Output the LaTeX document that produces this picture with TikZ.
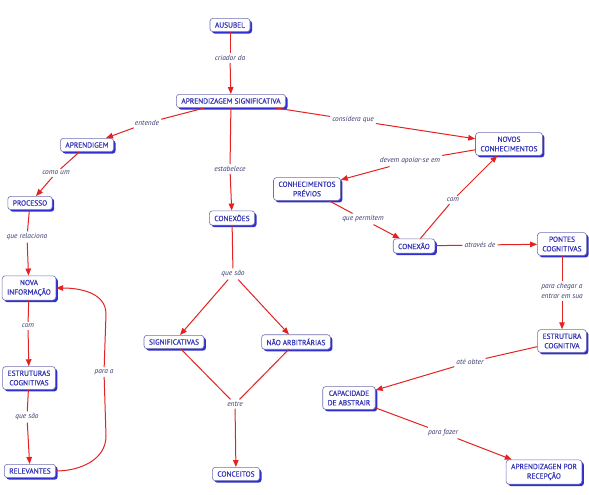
\documentclass[tikz,border=0pt]{standalone}
\usepackage{fontspec}
\setmainfont{PT Sans}
\newfontfamily\cmapbold[FakeBold=0.6]{PT Sans}
\usetikzlibrary{arrows.meta,shadows}
\definecolor{ntext}{HTML}{3535B5}
\definecolor{nborder}{HTML}{7070B0}
\definecolor{nshadow}{HTML}{3030D0}
\definecolor{lred}{HTML}{E52222}
\definecolor{ltext}{HTML}{3A3A70}
\begin{document}
\begin{tikzpicture}[x=1pt,y=-1pt,
  concept/.style={draw=nborder, line width=0.6pt, fill=white, rounded corners=3pt,
    text=ntext, font=\cmapbold\fontsize{7.4}{9.5}\selectfont, align=center,
    inner xsep=5pt, inner ysep=4pt,
    drop shadow={shadow xshift=2pt, shadow yshift=-2pt, fill=nshadow, opacity=1}},
  lab/.style={fill=white, text=ltext, font=\fontsize{7.4}{9.5}\selectfont\itshape,
    inner sep=2pt, align=center},
  link/.style={draw=lred, line width=1pt},
  arr/.style={link, -{Triangle[length=7pt,width=5.5pt]}},
]
\useasboundingbox (0,0) rectangle (589,495);
\fill[white] (0,0) rectangle (589,495);

% concepts
\node[concept] (aus) at (230,25) {AUSUBEL};
\node[concept] (as) at (231,101) {APRENDIZAGEM SIGNIFICATIVA};
\node[concept] (apr) at (87,145) {APRENDIGEM};
\node[concept] (proc) at (30,203) {PROCESSO};
\node[concept] (nova) at (29,288) {NOVA\\INFORMAÇÃO};
\node[concept] (estr) at (29,378) {ESTRUTURAS\\COGNITIVAS};
\node[concept] (rel) at (30,471) {RELEVANTES};
\node[concept] (conx) at (232,218) {CONEXÕES};
\node[concept] (sig) at (174,342) {SIGNIFICATIVAS};
\node[concept] (nao) at (296,342) {NÃO ARBITRÁRIAS};
\node[concept] (conc) at (236,474) {CONCEITOS};
\node[concept] (novos) at (509,144) {NOVOS\\CONHECIMENTOS};
\node[concept] (prev) at (307,189) {CONHECIMENTOS\\PRÉVIOS};
\node[concept] (conexao) at (414,246) {CONEXÃO};
\node[concept] (pontes) at (562,244) {PONTES\\COGNITIVAS};
\node[concept] (estc) at (562,341) {ESTRUTURA\\COGNITIVA};
\node[concept] (cap) at (349,398) {CAPACIDADE\\DE ABSTRAIR};
\node[concept] (rec) at (544,472) {APRENDIZAGEN POR\\RECEPÇÃO};

% linking phrases
\node[lab] (l1) at (230,58) {criador da};
\node[lab] (l2) at (147,123) {entende};
\node[lab] (l3) at (353,120) {considera que};
\node[lab] (l4) at (56,173) {como um};
\node[lab] (l5) at (27,237) {que relaciona};
\node[lab] (l6) at (28,326) {com};
\node[lab] (l7) at (27,417) {que são};
\node[lab] (l8) at (104,372) {para a};
\node[lab] (l9) at (230,169) {estabelece};
\node[lab] (l10) at (233,274) {que são};
\node[lab] (l11) at (235,404) {entre};
\node[lab] (l12) at (410,161) {devem apoiar-se em};
\node[lab] (l13) at (363,219) {que permitem};
\node[lab] (l14) at (453,200) {com};
\node[lab] (l15) at (480,245) {através de};
\node[lab] (l16) at (562,291) {para chegar a\\entrar em sua};
\node[lab] (l17) at (470,362) {até obter};
\node[lab] (l18) at (443,433) {para fazer};

\coordinate (pa1) at (106,436);
\coordinate (pa2) at (106,314);

% connectors
\draw[link] (aus) -- (l1); \draw[arr] (l1) -- (as);
\draw[link] (as) -- (l2); \draw[arr] (l2) -- (apr);
\draw[link] (as) -- (l3); \draw[arr] (l3) -- (novos);
\draw[link] (as) -- (l9); \draw[arr] (l9) -- (conx);
\draw[link] (apr) -- (l4); \draw[arr] (l4) -- (proc);
\draw[link] (proc) -- (l5); \draw[arr] (l5) -- (nova);
\draw[link] (nova) -- (l6); \draw[arr] (l6) -- (estr);
\draw[link] (estr) -- (l7); \draw[arr] (l7) -- (rel);
\draw[link] (rel.east) to[out=0,in=-90] (pa1) -- (l8);
\draw[arr] (l8) -- (pa2) to[out=90,in=0] (nova.east);
\draw[link] (conx) -- (l10);
\draw[arr] (l10) -- (sig);
\draw[arr] (l10) -- (nao);
\draw[link] (sig) -- (l11);
\draw[link] (nao) -- (l11);
\draw[arr] (l11) -- (conc);
\draw[link] (novos) -- (l12); \draw[arr] (l12) -- (prev);
\draw[link] (prev) -- (l13); \draw[arr] (l13) -- (conexao);
\draw[link] (conexao) -- (l14); \draw[arr] (l14) -- (novos);
\draw[link] (conexao) -- (l15); \draw[arr] (l15) -- (pontes);
\draw[link] (pontes) -- (l16); \draw[arr] (l16) -- (estc);
\draw[link] (estc) -- (l17); \draw[arr] (l17) -- (cap);
\draw[link] (cap) -- (l18); \draw[arr] (l18) -- (rec);
\end{tikzpicture}
\end{document}
